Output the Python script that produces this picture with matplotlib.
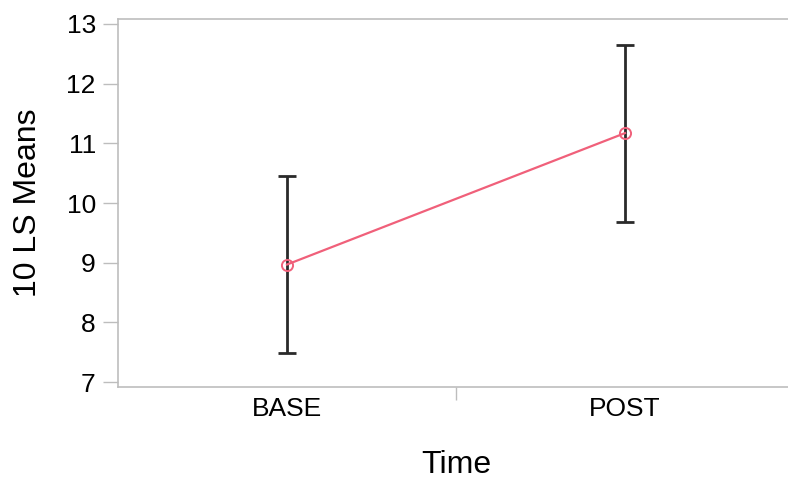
import matplotlib.pyplot as plt
from matplotlib.ticker import FixedLocator

plt.rcParams['font.family'] = ['Liberation Sans', 'DejaVu Sans']

times = ["BASE", "POST"]
means = [8.97, 11.17]
lower = [7.49, 9.68]
upper = [10.45, 12.65]

x = list(range(len(times)))
err_lo = [m - l for m, l in zip(means, lower)]
err_hi = [u - m for u, m in zip(upper, means)]

fig = plt.figure(figsize=(7.88, 4.82), dpi=100)
ax = fig.add_axes([118 / 788, 1 - 387 / 482, 676 / 788, 368 / 482])

# barres d'erreur noires
ax.errorbar(x, means, yerr=[err_lo, err_hi], fmt="none", ecolor="#2a2a2a",
            elinewidth=2, capsize=6.5, capthick=2, zorder=2)
ax.plot(x, means, color="#f0607a", lw=1.6, marker="o", markersize=8,
        markerfacecolor="none", markeredgecolor="#f0607a", markeredgewidth=1.4, zorder=3)

ax.set_xlim(-0.5, 1.5)
ax.set_ylim(6.92, 13.08)
ax.set_yticks([7, 8, 9, 10, 11, 12, 13])
ax.set_xticks(x)
ax.set_xticklabels(times)
ax.xaxis.set_minor_locator(FixedLocator([0.5]))

for s in ax.spines.values():
    s.set_color("#bdbdbd")
    s.set_linewidth(1.2)

ax.tick_params(axis="y", length=11, width=1, color="#bdbdbd", pad=5, labelsize=19)
ax.tick_params(axis="x", which="major", length=0, pad=7, labelsize=19)
ax.tick_params(axis="x", which="minor", length=9, width=1, color="#bdbdbd")

ax.set_xlabel("Time", fontsize=23, labelpad=21)
ax.set_ylabel("10 LS Means", fontsize=23, labelpad=17)

fig.savefig("out.png", dpi=100)
